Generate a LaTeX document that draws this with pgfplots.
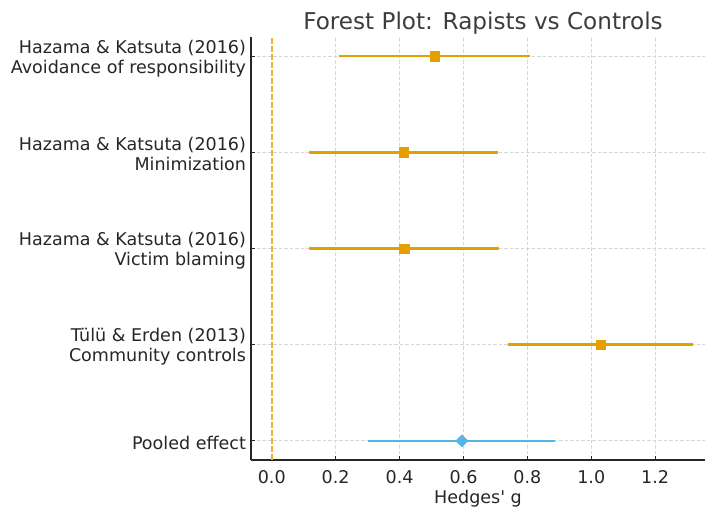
\documentclass[border=0pt]{standalone}
\usepackage{pgfplots}
\usepackage{pgfplotstable}
\pgfplotsset{compat=1.18}
\usepackage{fontspec}
\setmainfont{DejaVu Sans}
\definecolor{orng}{HTML}{E69F00}
\definecolor{zline}{HTML}{EDB030}
\definecolor{skyb}{HTML}{56B4E9}
\definecolor{spine}{HTML}{262626}

% y  g  minus  plus
\pgfplotstableread{
y g em ep
4 0.510 0.299 0.299
3 0.412 0.295 0.297
2 0.415 0.298 0.297
1 1.030 0.290 0.288
}\studies
\pgfplotstableread{
y g em ep
0 0.595 0.295 0.292
}\pooled
\pgfplotstableread{
x y
0 -0.2
0 4.2
}\zeroline

\begin{document}
\begin{tikzpicture}
\path[use as bounding box] (0,0) rectangle (705bp,507bp);
\begin{axis}[
  at={(251bp,47bp)}, anchor=south west,
  scale only axis, width=454bp, height=423bp,
  xmin=-0.065, xmax=1.356, ymin=-0.2, ymax=4.2,
  axis x line*=bottom, axis y line*=left,
  axis line style={-, draw=spine, line width=1.2bp},
  xtick={0.2,0.4,0.6,0.8,1.0,1.2},
  xticklabels={0.2,0.4,0.6,0.8,1.0,1.2},
  extra x ticks={0},
  extra x tick labels={0.0},
  extra x tick style={grid=none},
  ytick={0,1,2,3,4},
  yticklabels={Pooled effect,{Tülü \& Erden (2013)\\Community controls},{Hazama \& Katsuta (2016)\\Victim blaming},{Hazama \& Katsuta (2016)\\Minimization},{Hazama \& Katsuta (2016)\\Avoidance of responsibility}},
  yticklabel style={align=right, font=\fontsize{17.6}{20}\selectfont, text=spine, xshift=-1.5bp, yshift=-2bp},
  xticklabel style={font=\fontsize{17.6}{20}\selectfont, text=spine, yshift=-7bp},
  tick style={draw=spine, line width=0.8bp},
  major tick length=4bp,
  tick align=inside,
  grid=major,
  major grid style={draw=gray!32, line width=0.6bp, dash pattern=on 3.5bp off 2bp},
  xlabel={Hedges\textquotesingle\ g},
  xlabel style={font=\fontsize{17.6}{20}\selectfont, text=spine, at={(axis description cs:0.5,0)}, anchor=center, yshift=-38.5bp},
  title={Forest Plot: Rapists vs Controls},
  title style={font=\fontsize{23.2}{27}\selectfont, text=spine!90, at={(axis description cs:0.5,1)}, anchor=center, yshift=8bp, xshift=5bp},
  clip=false,
]
\addplot[draw=zline, line width=1.6bp, dash pattern=on 5.5bp off 2.5bp, mark=none] table[x=x, y=y] {\zeroline};
\addplot[orng, only marks, mark=square*, mark size=4.7bp, mark options={fill=orng, draw=orng},
  error bars/.cd, x dir=both, x explicit, error mark=none,
  error bar style={line width=2.4bp, orng}]
  table[x=g, y=y, x error minus=em, x error plus=ep] {\studies};
\addplot[skyb, only marks, mark=square*, mark size=4.3bp, mark options={fill=skyb, draw=skyb, rotate=45, line join=round},
  error bars/.cd, x dir=both, x explicit, error mark=none,
  error bar style={line width=2.4bp, skyb}]
  table[x=g, y=y, x error minus=em, x error plus=ep] {\pooled};
\end{axis}
\end{tikzpicture}
\end{document}
